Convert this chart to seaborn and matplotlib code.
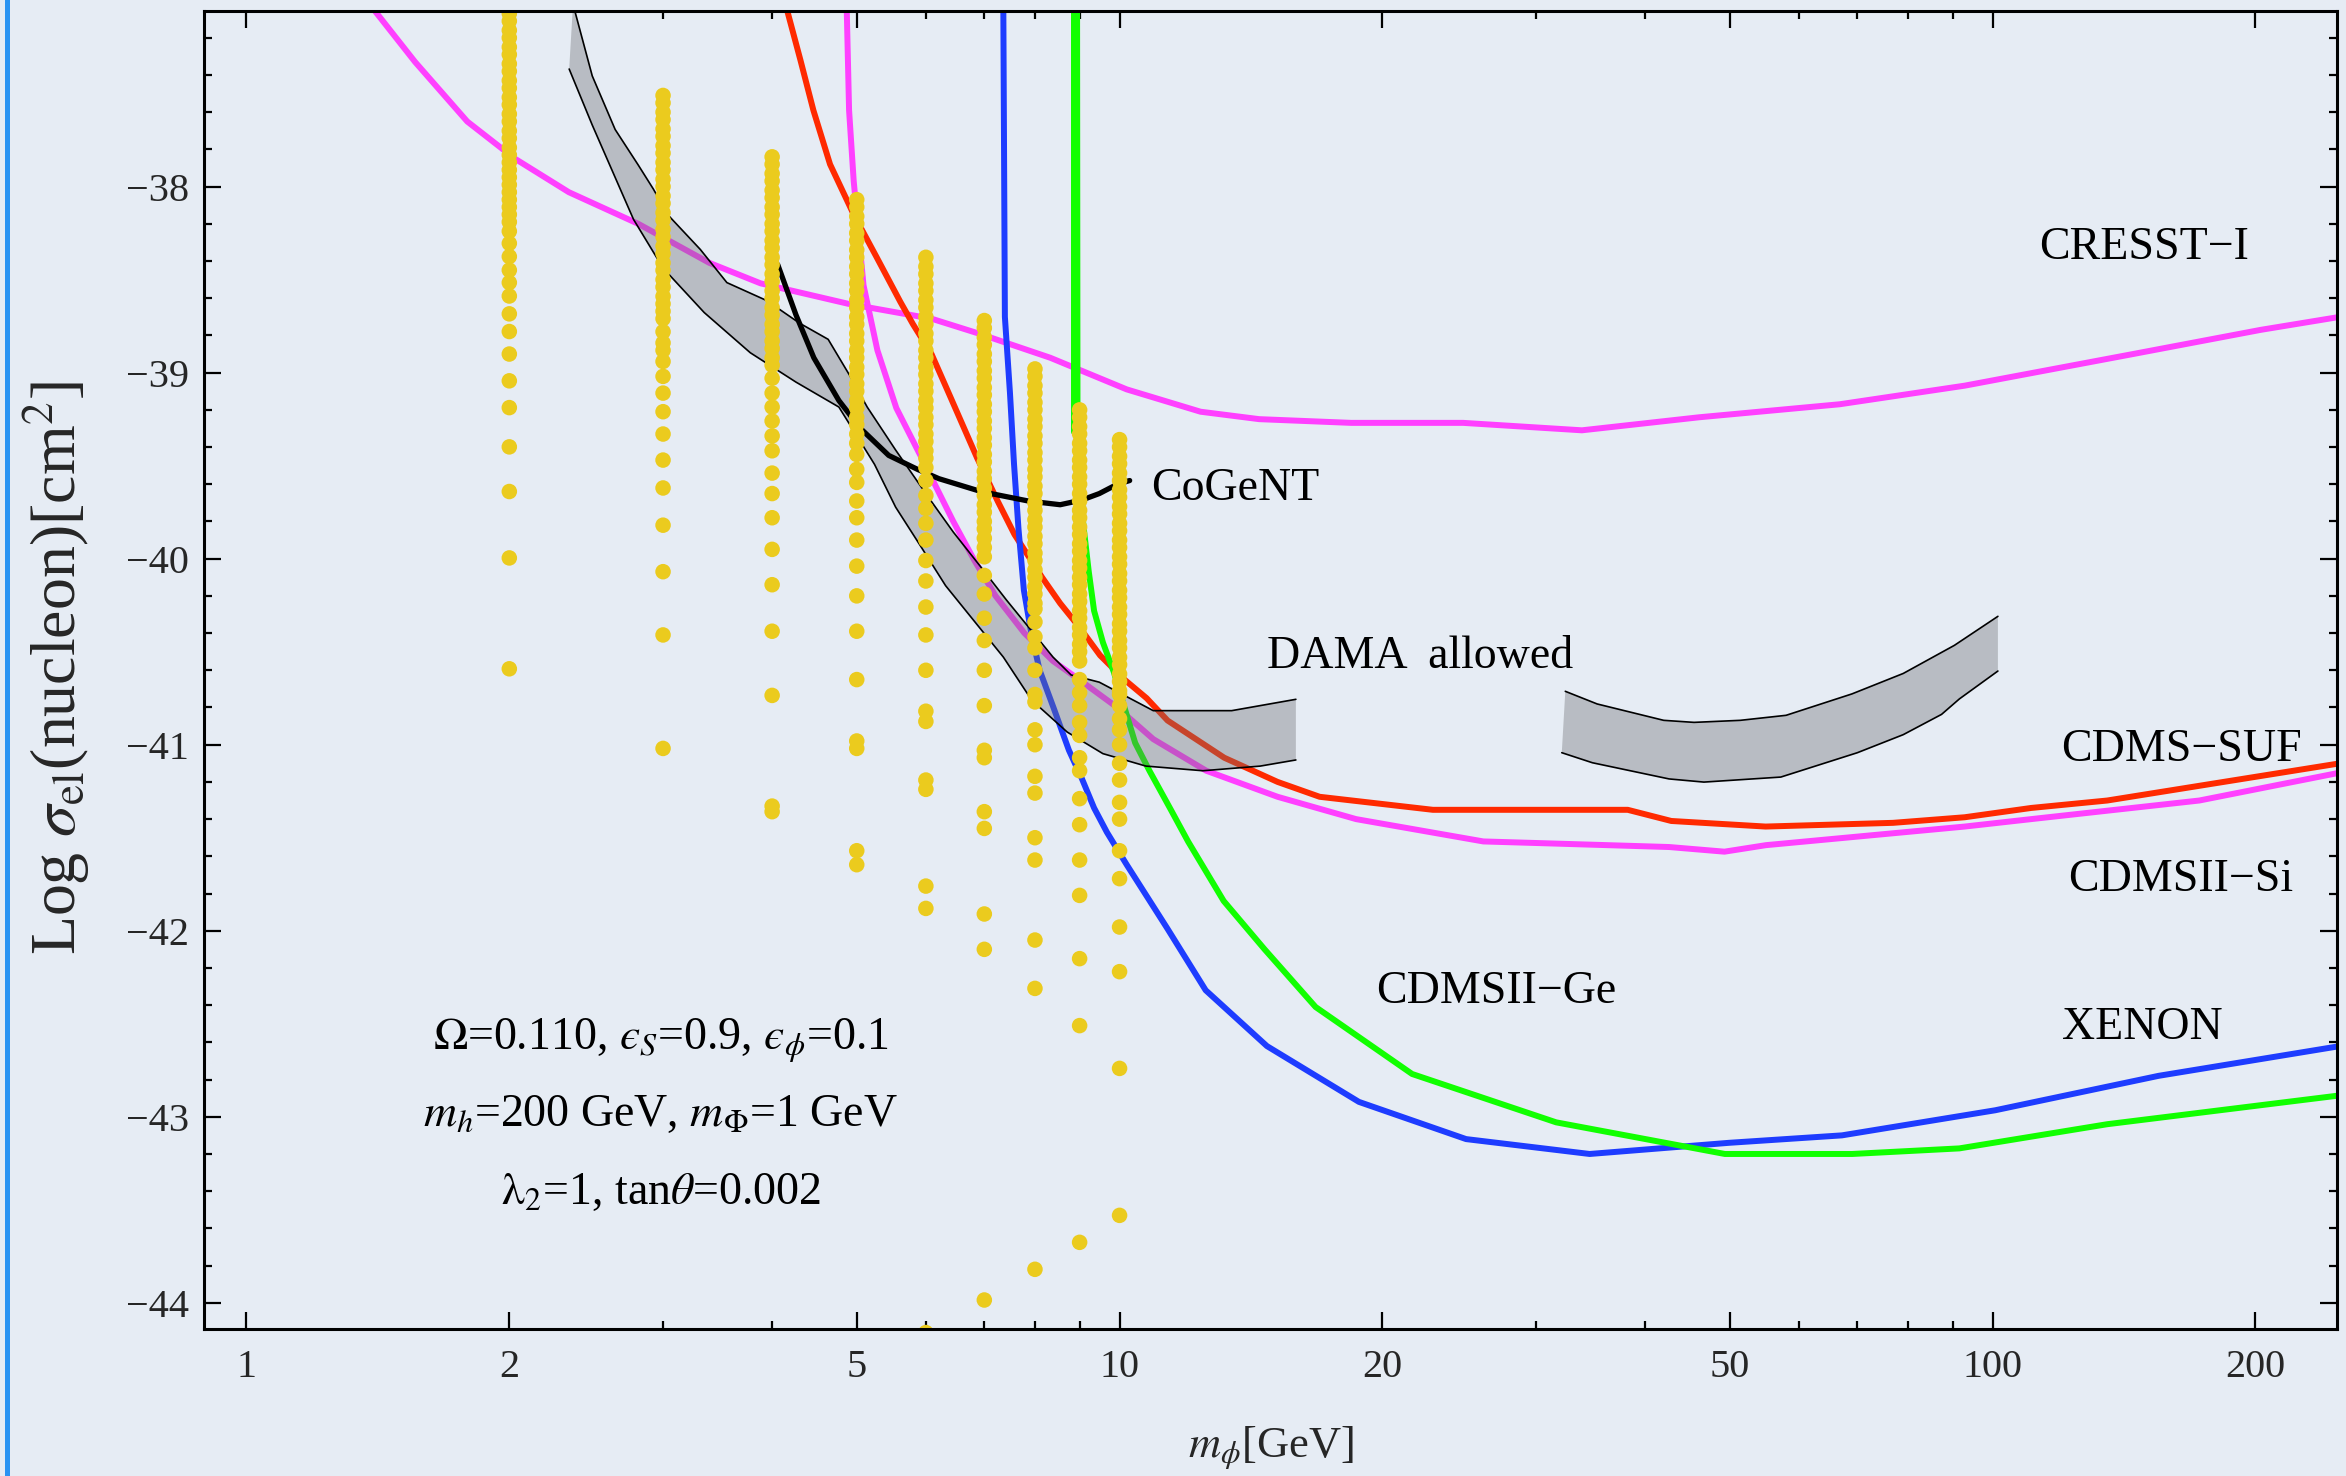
import numpy as np
import pandas as pd
import matplotlib
matplotlib.use("Agg")
import matplotlib.pyplot as plt
import seaborn as sns
from matplotlib.ticker import FixedLocator, FixedFormatter, NullFormatter
from matplotlib.patches import Rectangle

# ---------------------------------------------------------------------------
# Exclusion limits: WIMP mass [GeV] vs log10(sigma_el / cm^2)
# ---------------------------------------------------------------------------
cresst_m = [1.40, 1.56, 1.79, 2.03, 2.34, 2.81, 3.39, 3.88, 4.31, 4.89, 6.09, 6.90, 8.33,
            10.19, 12.38, 14.45, 18.42, 24.75, 33.85, 46.1, 66.8, 92.9, 144.8, 202.8, 250]
cresst_s = [-37.05, -37.33, -37.65, -37.85, -38.03, -38.20, -38.41, -38.52, -38.57, -38.63,
            -38.71, -38.79, -38.92, -39.09, -39.21, -39.25, -39.27, -39.27, -39.31, -39.24,
            -39.17, -39.07, -38.90, -38.77, -38.70]

suf_m = [4.16, 4.31, 4.46, 4.66, 4.96, 5.27, 5.61, 5.80, 6.09, 6.40, 6.87, 7.25, 7.58, 8.15,
         8.55, 9.0, 9.5, 10.13, 10.74, 11.35, 13.18, 15.17, 16.95, 22.85, 38.2, 42.85, 54.95,
         76.9, 92.9, 110.7, 135.3, 250]
suf_s = [-37.05, -37.32, -37.59, -37.88, -38.15, -38.38, -38.62, -38.74, -38.90, -39.13,
         -39.46, -39.69, -39.87, -40.10, -40.24, -40.37, -40.52, -40.65, -40.75, -40.87,
         -41.07, -41.20, -41.28, -41.35, -41.35, -41.41, -41.44, -41.42, -41.39, -41.34,
         -41.30, -41.10]

si_m = [4.87, 4.90, 4.96, 5.09, 5.28, 5.55, 5.98, 6.45, 6.82, 7.21, 7.78, 8.39, 9.05, 9.94,
        10.93, 12.57, 15.17, 18.66, 26.1, 30.8, 42.6, 49.3, 55.0, 92.9, 110.7, 172.5, 250]
si_s = [-37.05, -37.59, -37.97, -38.53, -38.88, -39.19, -39.49, -39.80, -40.01, -40.20,
        -40.40, -40.55, -40.66, -40.80, -40.97, -41.14, -41.28, -41.40, -41.52, -41.53,
        -41.55, -41.575, -41.54, -41.44, -41.40, -41.30, -41.15]

xe_m = [7.36, 7.39, 7.49, 7.57, 7.66, 7.77, 7.93, 8.10, 8.40, 8.75, 9.05, 9.35, 9.67, 10.19,
        11.35, 12.55, 14.75, 18.8, 24.94, 34.55, 49.9, 67.2, 100.7, 154.9, 250]
xe_s = [-37.05, -38.70, -39.11, -39.49, -39.84, -40.17, -40.41, -40.60, -40.80, -41.03,
        -41.18, -41.34, -41.47, -41.645, -41.99, -42.32, -42.62, -42.92, -43.12, -43.20,
        -43.14, -43.10, -42.965, -42.78, -42.62]

ge_m = [8.94, 8.95, 9.0, 9.09, 9.22, 9.35, 9.57, 9.85, 10.13, 10.42, 10.82, 11.45, 11.98,
        13.16, 14.66, 16.77, 21.63, 31.63, 49.35, 69.05, 91.6, 135.3, 250]
ge_s = [-37.05, -39.30, -39.60, -39.82, -40.07, -40.28, -40.45, -40.61, -40.80, -40.99,
        -41.14, -41.35, -41.52, -41.84, -42.10, -42.41, -42.77, -43.03, -43.20, -43.20,
        -43.17, -43.04, -42.885]
ge_stub_m = [8.86, 8.86]
ge_stub_s = [-37.05, -39.32]

cogent_m = [4.06, 4.26, 4.465, 4.77, 5.05, 5.44, 5.87, 6.21, 6.95, 7.86, 8.55, 9.05, 9.48,
            9.94, 10.27]
cogent_s = [-38.42, -38.69, -38.92, -39.15, -39.30, -39.445, -39.52, -39.57, -39.64, -39.69,
            -39.71, -39.685, -39.65, -39.60, -39.58]

# DAMA allowed regions (upper / lower boundaries)
dama1_up_m = [2.366, 2.489, 2.644, 2.81, 2.925, 3.04, 3.31, 3.55, 3.945, 4.30, 4.637, 4.905,
              5.14, 5.54, 6.03, 6.45, 6.95, 7.42, 7.86, 8.39, 8.80, 9.48, 10.93, 13.44, 15.92]
dama1_up_s = [-37.02, -37.405, -37.693, -37.884, -38.014, -38.153, -38.338, -38.516, -38.613,
              -38.734, -38.821, -39.013, -39.185, -39.416, -39.665, -39.857, -40.05, -40.222,
              -40.366, -40.529, -40.625, -40.664, -40.817, -40.817, -40.756]
dama1_lo_m = [2.342, 2.489, 2.775, 3.00, 3.344, 3.776, 4.26, 4.77, 5.00, 5.24, 5.54, 5.92,
              6.32, 6.82, 7.36, 7.93, 8.71, 9.57, 10.72, 12.46, 14.49, 15.92]
dama1_lo_s = [-37.368, -37.669, -38.176, -38.438, -38.677, -38.893, -39.051, -39.185, -39.339,
              -39.493, -39.723, -39.934, -40.145, -40.337, -40.529, -40.76, -40.932, -41.048,
              -41.115, -41.14, -41.115, -41.082]

dama2_up_m = [32.4, 35.24, 42.0, 45.5, 51.4, 58.0, 69.0, 79.0, 90.4, 101.4]
dama2_up_s = [-40.713, -40.781, -40.869, -40.88, -40.869, -40.842, -40.727, -40.617, -40.466,
              -40.31]
dama2_lo_m = [32.1, 34.8, 42.6, 46.7, 57.2, 70.0, 79.0, 87.4, 91.6, 101.4]
dama2_lo_s = [-41.043, -41.097, -41.184, -41.201, -41.174, -41.043, -40.946, -40.837, -40.754,
              -40.604]

# ---------------------------------------------------------------------------
# Model scan points: log10 sigma at each dark-matter mass
# ---------------------------------------------------------------------------
scan_m2 = [-37.02, -37.07, -37.11, -37.16, -37.20, -37.25, -37.29, -37.34, -37.38, -37.43,
           -37.47, -37.52, -37.56, -37.61, -37.65, -37.70, -37.74, -37.79, -37.83, -37.87,
           -37.91, -37.95, -37.99, -38.03, -38.07, -38.11, -38.15, -38.19, -38.24, -38.305,
           -38.376, -38.449, -38.516, -38.588, -38.684, -38.779, -38.90, -39.044, -39.188,
           -39.399, -39.639, -39.996, -40.592]
scan_m3 = [-37.51, -37.55, -37.60, -37.64, -37.69, -37.73, -37.78, -37.82, -37.87, -37.91,
           -37.96, -38.00, -38.05, -38.09, -38.14, -38.18, -38.23, -38.27, -38.32, -38.36,
           -38.41, -38.45, -38.50, -38.54, -38.59, -38.63, -38.67, -38.71, -38.78, -38.84,
           -38.88, -38.94, -39.02, -39.11, -39.21, -39.33, -39.47, -39.62, -39.82, -40.07,
           -40.41, -41.02]
scan_m4 = [-37.84, -37.88, -37.93, -37.97, -38.02, -38.06, -38.11, -38.15, -38.20, -38.24,
           -38.29, -38.33, -38.38, -38.42, -38.47, -38.51, -38.56, -38.60, -38.65, -38.69,
           -38.74, -38.78, -38.83, -38.87, -38.92, -38.96, -39.03, -39.11, -39.185, -39.26,
           -39.34, -39.42, -39.54, -39.65, -39.78, -39.95, -40.14, -40.39, -40.735, -41.33,
           -41.36]
scan_m5 = [-38.07, -38.11, -38.16, -38.20, -38.25, -38.29, -38.34, -38.38, -38.43, -38.47,
           -38.52, -38.56, -38.61, -38.65, -38.70, -38.74, -38.79, -38.83, -38.88, -38.92,
           -38.97, -39.01, -39.06, -39.10, -39.15, -39.19, -39.24, -39.28, -39.33, -39.38,
           -39.44, -39.52, -39.59, -39.69, -39.78, -39.90, -40.04, -40.20, -40.39, -40.65,
           -40.98, -41.02, -41.57, -41.645]
scan_m6 = [-38.38, -38.43, -38.47, -38.52, -38.56, -38.61, -38.65, -38.70, -38.74, -38.79,
           -38.83, -38.88, -38.92, -38.97, -39.01, -39.06, -39.10, -39.15, -39.19, -39.24,
           -39.28, -39.33, -39.37, -39.42, -39.46, -39.51, -39.58, -39.66, -39.73, -39.81,
           -39.90, -40.01, -40.12, -40.26, -40.41, -40.60, -40.82, -40.875, -41.19, -41.24,
           -41.76, -41.88, -44.16]
scan_m7 = [-38.72, -38.76, -38.81, -38.85, -38.90, -38.94, -38.99, -39.03, -39.08, -39.12,
           -39.17, -39.21, -39.26, -39.30, -39.35, -39.39, -39.44, -39.48, -39.53, -39.57,
           -39.62, -39.66, -39.71, -39.75, -39.80, -39.84, -39.89, -39.94, -39.99, -40.09,
           -40.19, -40.32, -40.44, -40.60, -40.79, -41.03, -41.07, -41.36, -41.45, -41.91,
           -42.10, -43.985]
scan_m8 = [-38.98, -39.02, -39.07, -39.11, -39.16, -39.20, -39.25, -39.29, -39.34, -39.38,
           -39.43, -39.47, -39.52, -39.56, -39.61, -39.65, -39.70, -39.74, -39.79, -39.83,
           -39.88, -39.92, -39.97, -40.01, -40.06, -40.10, -40.15, -40.19, -40.24, -40.27,
           -40.34, -40.42, -40.48, -40.60, -40.73, -40.77, -40.92, -41.00, -41.17, -41.26,
           -41.50, -41.62, -42.05, -42.31, -43.82]
scan_m9 = [-39.20, -39.24, -39.29, -39.33, -39.38, -39.42, -39.47, -39.51, -39.56, -39.60,
           -39.65, -39.69, -39.74, -39.78, -39.83, -39.87, -39.92, -39.96, -40.01, -40.05,
           -40.10, -40.14, -40.19, -40.23, -40.28, -40.32, -40.37, -40.41, -40.46, -40.50,
           -40.55, -40.65, -40.72, -40.79, -40.88, -40.95, -41.07, -41.14, -41.29, -41.43,
           -41.62, -41.81, -42.15, -42.51, -43.675]
scan_m10 = [-39.36, -39.40, -39.45, -39.49, -39.54, -39.58, -39.63, -39.67, -39.72, -39.76,
            -39.81, -39.85, -39.90, -39.94, -39.99, -40.03, -40.08, -40.12, -40.17, -40.21,
            -40.26, -40.30, -40.35, -40.39, -40.44, -40.48, -40.53, -40.57, -40.62, -40.66,
            -40.71, -40.73, -40.79, -40.86, -40.92, -41.00, -41.10, -41.19, -41.31, -41.40,
            -41.57, -41.72, -41.98, -42.22, -42.74, -43.53]
scan_masses = [2, 3, 4, 5, 6, 7, 8, 9, 10]
scan_values = [scan_m2, scan_m3, scan_m4, scan_m5, scan_m6, scan_m7, scan_m8, scan_m9, scan_m10]

x_ticks = [1, 2, 5, 10, 20, 50, 100, 200]
x_tick_labels = ["1", "2", "5", "10", "20", "50", "100", "200"]
x_minor = [3, 4, 6, 7, 8, 9, 30, 40, 60, 70, 80, 90]
y_ticks = [-44, -43, -42, -41, -40, -39, -38]
y_tick_labels = ["\u221244", "\u221243", "\u221242", "\u221241", "\u221240", "\u221239", "\u221238"]

# ---------------------------------------------------------------------------
paper = "#e6ecf4"
magenta = "#ff40ff"
red = "#ff2a00"
blue = "#1e3cff"
green = "#11ff00"
gold = "#ebcb1e"

sns.set_style("ticks")
plt.rcParams["font.family"] = ["Liberation Serif", "DejaVu Serif"]
plt.rcParams["mathtext.fontset"] = "stix"
plt.rcParams["axes.unicode_minus"] = True

fig = plt.figure(figsize=(23.46, 14.76), dpi=100, facecolor=paper)
ax = fig.add_axes([0.08696, 0.09926, 0.90921, 0.89329])
ax.set_facecolor(paper)
ax.set_xscale("log")
ax.set_xlim(0.894, 248.0)
ax.set_ylim(-44.1435, -37.056)

lw = 4.3
curves = [
    (cresst_m, cresst_s, magenta),
    (si_m, si_s, magenta),
    (suf_m, suf_s, red),
    (xe_m, xe_s, blue),
    (ge_m, ge_s, green),
    (ge_stub_m, ge_stub_s, green),
]
for mm, ss, col in curves:
    sns.lineplot(x=mm, y=ss, ax=ax, color=col, lw=lw, sort=False, estimator=None,
                 zorder=2)

# DAMA regions: translucent fill with thin outlines
for um, us, lm, ls in [(dama1_up_m, dama1_up_s, dama1_lo_m, dama1_lo_s),
                       (dama2_up_m, dama2_up_s, dama2_lo_m, dama2_lo_s)]:
    ax.fill(list(um) + list(lm)[::-1], list(us) + list(ls)[::-1],
            facecolor="#6e7073", alpha=0.38, edgecolor="none", zorder=3)
    sns.lineplot(x=um, y=us, ax=ax, color="black", lw=1.2, sort=False, estimator=None,
                 zorder=3.5)
    sns.lineplot(x=lm, y=ls, ax=ax, color="black", lw=1.2, sort=False, estimator=None,
                 zorder=3.5)

sns.lineplot(x=cogent_m, y=cogent_s, ax=ax, color="black", lw=3.8, sort=False,
             estimator=None, zorder=4)

scan = pd.DataFrame({
    "mass": np.concatenate([[m] * len(v) for m, v in zip(scan_masses, scan_values)]),
    "logsig": np.concatenate(scan_values),
})
sns.scatterplot(data=scan, x="mass", y="logsig", ax=ax, color=gold, s=125,
                edgecolor="none", linewidth=0, zorder=5)

# axes frame and ticks
for sp in ax.spines.values():
    sp.set_linewidth(2.2)
    sp.set_color("black")
    sp.set_zorder(6)
ax.xaxis.set_major_locator(FixedLocator(x_ticks))
ax.xaxis.set_major_formatter(FixedFormatter(x_tick_labels))
ax.xaxis.set_minor_locator(FixedLocator(x_minor))
ax.xaxis.set_minor_formatter(NullFormatter())
ax.yaxis.set_major_locator(FixedLocator(y_ticks))
ax.yaxis.set_major_formatter(FixedFormatter(y_tick_labels))
ax.yaxis.set_minor_locator(FixedLocator(np.arange(-44.2, -37.0, 0.2)))
ax.yaxis.set_minor_formatter(NullFormatter())
ax.tick_params(which="both", direction="in", top=True, right=True, color="black",
               width=1.6, labelsize=29)
ax.tick_params(which="major", length=12.5)
ax.tick_params(which="minor", length=6)
ax.tick_params(axis="y", pad=11)
ax.tick_params(axis="x", pad=14)

ax.set_xlabel(r"$m_{\phi}$[GeV]", fontsize=32)
ax.xaxis.set_label_coords(0.5, -0.072)
ax.set_ylabel(r"Log $\sigma_{\rm el}$(nucleon)[cm$^{2}$]", fontsize=46)
ax.yaxis.set_label_coords(-0.0525, 0.502)

# experiment names
txt = dict(fontsize=33, color="black", zorder=7)
ax.text(149, -38.389, "CRESST\u2212I", ha="center", va="baseline", **txt)
ax.text(164.5, -41.088, "CDMS\u2212SUF", ha="center", va="baseline", **txt)
ax.text(164, -41.784, "CDMSII\u2212Si", ha="center", va="baseline", **txt)
ax.text(148.5, -42.583, "XENON", ha="center", va="baseline", **txt)
ax.text(27.0, -42.386, "CDMSII\u2212Ge", ha="center", va="baseline", **txt)
ax.text(22.1, -40.59, "DAMA  allowed", ha="center", va="baseline", **txt)
ax.text(10.87, -39.685, "CoGeNT", ha="left", va="baseline", **txt)

# model parameters (lunate epsilon)
ax.text(2.98, -42.64, "$\\Omega$=0.110, $\u03f5_S$=0.9, $\u03f5_\\phi$=0.1",
        ha="center", va="baseline", **txt)
ax.text(2.98, -43.047, r"$m_h$=200 GeV, $m_\Phi$=1 GeV",
        ha="center", va="baseline", **txt)
ax.text(2.98, -43.467, r"$\mathrm{\lambda}_2$=1, tan$\theta$=0.002",
        ha="center", va="baseline", **txt)

# slide edge accent
fig.add_artist(Rectangle((5 / 2346, 0), 5 / 2346, 1, transform=fig.transFigure,
                         facecolor="#2a93f2", edgecolor="none"))

fig.savefig("out.png", dpi=100, facecolor=paper)
